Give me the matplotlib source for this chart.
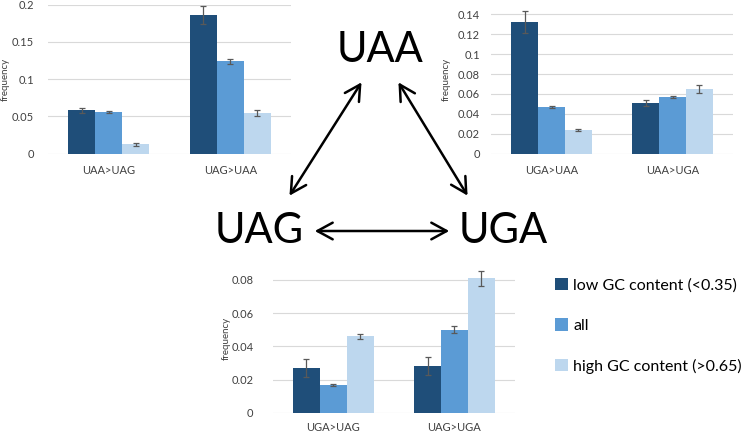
import numpy as np
import matplotlib
matplotlib.use('Agg')
import matplotlib.pyplot as plt

plt.rcParams['font.family'] = ['Lato', 'DejaVu Sans']

# Datos
series = ['low GC content (<0.35)', 'all', 'high GC content (>0.65)']
colores = ['#1F4E79', '#5B9BD5', '#BDD7EE']

cats_uag = ['UAA>UAG', 'UAG>UAA']
vals_uag = [[0.058, 0.186], [0.056, 0.124], [0.013, 0.055]]
err_uag = [[0.003, 0.0125], [0.001, 0.003], [0.002, 0.004]]

cats_uga = ['UGA>UAA', 'UAA>UGA']
vals_uga = [[0.132, 0.051], [0.047, 0.057], [0.024, 0.065]]
err_uga = [[0.011, 0.003], [0.001, 0.001], [0.001, 0.004]]

cats_abajo = ['UGA>UAG', 'UAG>UGA']
vals_abajo = [[0.027, 0.028], [0.0165, 0.050], [0.046, 0.081]]
err_abajo = [[0.0055, 0.0055], [0.0007, 0.002], [0.0015, 0.0045]]

W, H = 750, 433
fig = plt.figure(figsize=(W / 100, H / 100), dpi=100)


def ejes(x0, x1, y_top, y_bot):
    return fig.add_axes([x0 / W, 1 - y_bot / H, (x1 - x0) / W, (y_bot - y_top) / H])


def barras(ax, cats, vals, errs, ymax, ticks, ypad, lab_x, xpad=8):
    ancho = 0.222
    x = np.arange(len(cats))
    for i in range(3):
        ax.bar(x + (i - 1) * ancho, vals[i], ancho, color=colores[i],
               label=series[i], zorder=2)
        ax.errorbar(x + (i - 1) * ancho, vals[i], yerr=errs[i], fmt='none',
                    ecolor='#595959', elinewidth=0.9, capsize=2, capthick=0.9,
                    zorder=3, clip_on=False)
    ax.set_xlim(-0.5, len(cats) - 0.5)
    ax.set_ylim(0, ymax)
    ax.set_yticks(ticks)
    ax.set_yticklabels(['0' if t == 0 else ('%g' % t) for t in ticks])
    ax.set_xticks(x)
    ax.set_xticklabels(cats)
    ax.grid(axis='y', color='#D9D9D9', lw=0.8, zorder=0)
    for s in ax.spines.values():
        s.set_visible(False)
    ax.tick_params(axis='both', length=0, labelsize=8, colors='#404040')
    ax.tick_params(axis='x', pad=xpad)
    ax.tick_params(axis='y', pad=ypad)
    ax.set_ylabel('frequency', fontsize=7, color='#404040')
    ax.yaxis.set_label_coords(lab_x, 0.5)


ax1 = ejes(48, 291, 4.7, 153.7)
barras(ax1, cats_uag, vals_uag, err_uag, 0.2, [0, 0.05, 0.1, 0.15, 0.2], 10, -0.158)

ax2 = ejes(491, 733, 4.4, 153.7)
barras(ax2, cats_uga, vals_uga, err_uga, 0.15,
       [0, 0.02, 0.04, 0.06, 0.08, 0.1, 0.12, 0.14], 8, -0.165)

ax3 = ejes(272.7, 515, 263.4, 412.7)
barras(ax3, cats_abajo, vals_abajo, err_abajo, 0.09,
       [0, 0.02, 0.04, 0.06, 0.08], 14, -0.175, xpad=6.5)

# Leyenda
fig.legend(*ax3.get_legend_handles_labels(), loc='upper left',
           bbox_to_anchor=(541 / W, 1 - 264 / H), frameon=False, fontsize=11.5,
           labelspacing=1.6, handlelength=0.78, handleheight=0.78,
           handletextpad=0.35)

# Codones y flechas
fig.text(380 / W, 1 - 50 / H, 'UAA', fontsize=30, ha='center', va='center')
fig.text(259 / W, 1 - 231 / H, 'UAG', fontsize=30, ha='center', va='center')
fig.text(503 / W, 1 - 231 / H, 'UGA', fontsize=30, ha='center', va='center')

flechas = [((363, 80), (288, 198)), ((397, 80), (469, 198)), ((312, 231), (452, 231))]
for (xa, ya), (xb, yb) in flechas:
    fig.add_artist(matplotlib.patches.FancyArrowPatch(
        (xa / W, 1 - ya / H), (xb / W, 1 - yb / H), transform=fig.transFigure,
        arrowstyle='<->,head_length=0.55,head_width=0.3', mutation_scale=20,
        lw=1.8, color='black'))

fig.savefig('out.png', dpi=100)
